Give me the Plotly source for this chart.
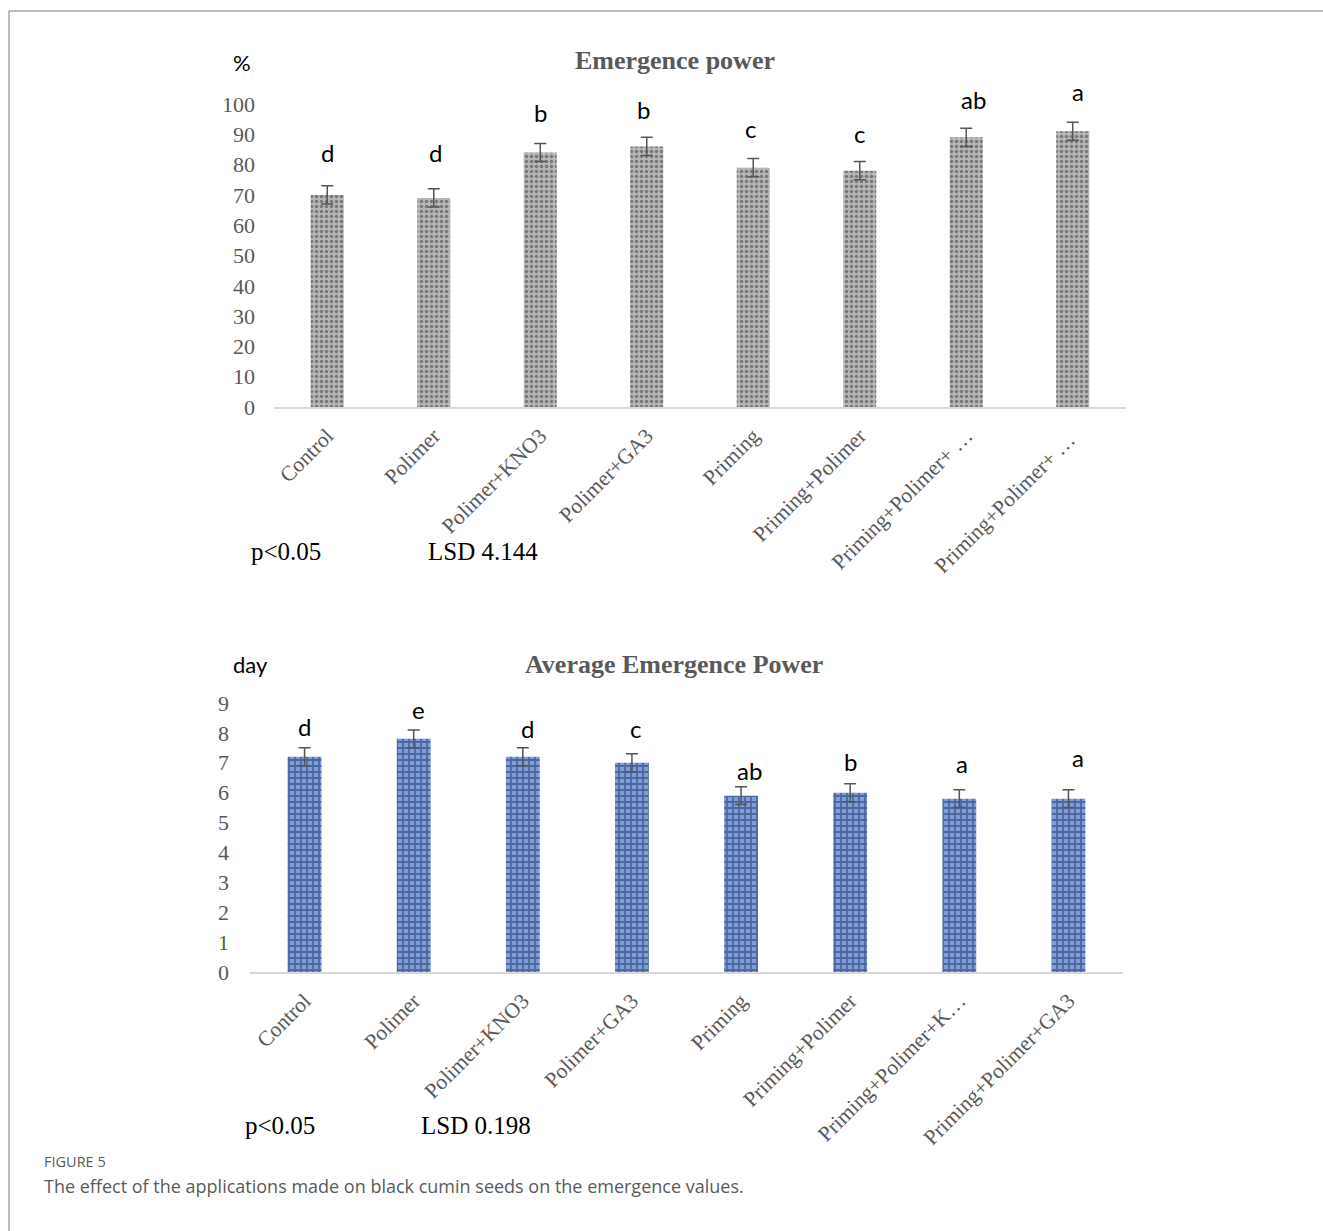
import plotly.graph_objects as go

# Treatments (tick labels as they appear on each axis)
labels_top = ["Control", "Polimer", "Polimer+KNO3", "Polimer+GA3", "Priming",
              "Priming+Polimer", "Priming+Polimer+ …", "Priming+Polimer+ … "]
labels_bottom = ["Control", "Polimer", "Polimer+KNO3", "Polimer+GA3", "Priming",
                 "Priming+Polimer", "Priming+Polimer+K…", "Priming+Polimer+GA3"]

# Emergence power (%)
power_values = [70, 69, 84, 86, 79, 78, 89, 91]
power_errors = [3, 3, 3, 3, 3, 3, 3, 3]
power_letters = ["d", "d", "b", "b", "c", "c", "ab", "a"]

# Average emergence power (day)
avg_values = [7.2, 7.8, 7.2, 7.0, 5.9, 6.0, 5.8, 5.8]
avg_errors = [0.3, 0.3, 0.3, 0.3, 0.3, 0.3, 0.3, 0.3]
avg_letters = ["d", "e", "d", "c", "ab", "b", "a", "a"]

W, H = 1323, 1231
SERIF = "Liberation Serif, Times New Roman, serif"
SANS = "Lato, Open Sans, sans-serif"
GREY_TXT = "#595959"


def px_x(x):
    return x / W


def px_y(y):
    return 1 - y / H


fig = go.Figure()

fig.add_trace(go.Bar(
    x=labels_top, y=power_values, xaxis="x", yaxis="y",
    marker=dict(color="#adadad", line=dict(width=0),
                pattern=dict(shape=".", fgcolor="#3a3a3a", bgcolor="#b7b7b7",
                             size=5, solidity=0.4)),
    error_y=dict(type="data", array=power_errors, color="#555555",
                 thickness=1.5, width=6),
    showlegend=False,
))

fig.add_trace(go.Bar(
    x=labels_bottom, y=avg_values, xaxis="x2", yaxis="y2",
    marker=dict(color="#4f73b5", line=dict(width=0),
                pattern=dict(shape="+", fgcolor="#1a2f66", bgcolor="#7f9dd6",
                             size=6, solidity=0.5)),
    error_y=dict(type="data", array=avg_errors, color="#555555",
                 thickness=1.5, width=6),
    showlegend=False,
))

axis_common = dict(showgrid=False, zeroline=False, ticks="")
ytick_font = dict(family=SERIF, size=22, color=GREY_TXT)
xtick_font = dict(family=SERIF, size=21.5, color=GREY_TXT)

fig.update_layout(
    width=W, height=H, autosize=False,
    margin=dict(l=0, r=0, t=0, b=0, pad=0, autoexpand=False),
    paper_bgcolor="white", plot_bgcolor="white",
    bargap=0.69,
    xaxis=dict(**axis_common, domain=[px_x(274), px_x(1126)], anchor="y",
               showline=True, linecolor="#d9d9d9", linewidth=1.5,
               tickangle=-45, tickfont=xtick_font, ticklabelstandoff=6),
    yaxis=dict(**axis_common, domain=[px_y(407), px_y(104)], anchor="x",
               range=[0, 100], dtick=10, showline=False,
               tickfont=ytick_font, ticklabelstandoff=18),
    xaxis2=dict(**axis_common, domain=[px_x(250), px_x(1123)], anchor="y2",
                showline=True, linecolor="#d9d9d9", linewidth=1.5,
                tickangle=-45, tickfont=xtick_font, ticklabelstandoff=6),
    yaxis2=dict(**axis_common, domain=[px_y(972), px_y(703)], anchor="x2",
                range=[0, 9], dtick=1, showline=False,
                tickfont=ytick_font, ticklabelstandoff=20),
)

# Significance letters above the error bars (pixel nudges per label)
letter_font = dict(family=SANS, size=24, color="black")
top_lift = [33, 36, 31, 28, 30, 28, 29, 31]
top_nudge = [0, 2, 0, -3, -3, 0, 7, 5]
for lab, v, e, t, s, dx in zip(labels_top, power_values, power_errors,
                               power_letters, top_lift, top_nudge):
    fig.add_annotation(x=lab, y=v + e, xref="x", yref="y", text=t,
                       showarrow=False, yanchor="middle", yshift=s, xshift=dx,
                       font=letter_font)
bottom_lift = [21, 20, 19, 25, 16, 22, 26, 32]
bottom_nudge = [0, 5, 5, 4, 8, 0, 3, 10]
for lab, v, e, t, s, dx in zip(labels_bottom, avg_values, avg_errors,
                               avg_letters, bottom_lift, bottom_nudge):
    fig.add_annotation(x=lab, y=v + e, xref="x2", yref="y2", text=t,
                       showarrow=False, yanchor="middle", yshift=s, xshift=dx,
                       font=letter_font)


def paper_text(x, y, text, font, xanchor="left"):
    fig.add_annotation(x=px_x(x), y=px_y(y), xref="paper", yref="paper",
                       text=text, showarrow=False, xanchor=xanchor,
                       yanchor="middle", font=font)


title_font = dict(family=SERIF, size=26, color=GREY_TXT, weight="bold")
paper_text(675, 60, "Emergence power", title_font, xanchor="center")
paper_text(674, 665, "Average Emergence Power", title_font, xanchor="center")

unit_font = dict(family=SANS, size=22, color="black")
paper_text(231, 62, "%", unit_font)
paper_text(231, 664, "day", unit_font)

stat_font = dict(family=SERIF, size=25, color="black")
paper_text(249, 551, "p&lt;0.05", stat_font)
paper_text(426, 551, "LSD 4.144", stat_font)
paper_text(243, 1125, "p&lt;0.05", stat_font)
paper_text(419, 1125, "LSD 0.198", stat_font)

# Figure caption
paper_text(42, 1161, "FIGURE 5",
           dict(family="Open Sans, sans-serif", size=14.5, color="#5a5a5a"))
paper_text(42, 1186,
           "The effect of the applications made on black cumin seeds on the emergence values.",
           dict(family="Open Sans, sans-serif", size=18, color="#5a5a5a"))

# Panel frame (top and left edges)
fig.add_shape(type="line", xref="paper", yref="paper",
              x0=px_x(9), x1=1.01, y0=px_y(11), y1=px_y(11),
              line=dict(color="#a6a6a6", width=1.5))
fig.add_shape(type="line", xref="paper", yref="paper",
              x0=px_x(9), x1=px_x(9), y0=px_y(11), y1=-0.01,
              line=dict(color="#a6a6a6", width=1.5))

fig.write_html("out.html")
